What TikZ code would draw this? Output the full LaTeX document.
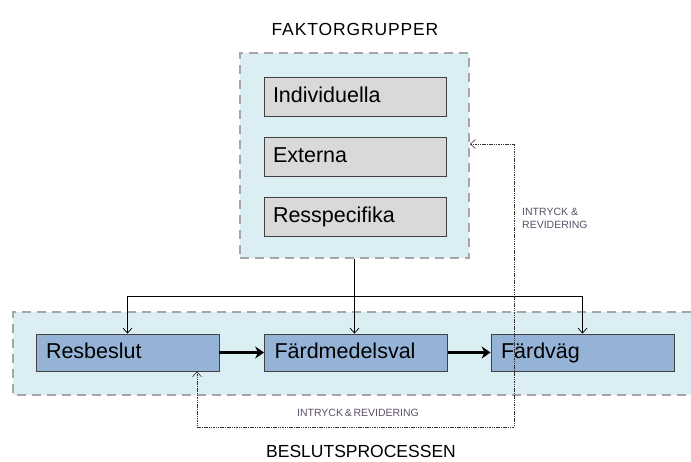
\documentclass[tikz,border=0pt]{standalone}
\usepackage{fontspec}
\setmainfont{Liberation Sans}
\usetikzlibrary{arrows.meta}
\definecolor{panelfill}{HTML}{DBEEF4}
\definecolor{paneldash}{HTML}{A6A6A6}
\definecolor{grayfill}{HTML}{D9D9D9}
\definecolor{bluefill}{HTML}{95B3D7}
\definecolor{boxline}{HTML}{404040}
\definecolor{lblcol}{HTML}{5A4E66}
\tikzset{
  panel/.style={draw=paneldash, fill=panelfill, line width=1.8pt, dash pattern=on 9pt off 6pt, inner sep=0pt},
  graybox/.style={draw=boxline, fill=grayfill, line width=0.8pt, minimum width=182pt, minimum height=39pt, text width=164pt, inner xsep=9pt, text height=15.5pt, text depth=4pt, align=left, font=\fontsize{21.5}{24}\selectfont},
  bluebox/.style={draw=boxline, fill=bluefill, line width=0.8pt, minimum width=183pt, minimum height=37pt, text width=163pt, inner xsep=10pt, text height=15.5pt, text depth=4pt, align=left, font=\fontsize{21.5}{24}\selectfont},
  conn/.style={draw=black, line width=0.7pt, -{Straight Barb[length=5pt,width=9pt]}},
  heavy/.style={draw=black, line width=3pt, -{Stealth[length=9pt,width=12pt,inset=3pt]}},
  fb/.style={draw=black!80, line width=0.6pt, dash pattern=on 1.5pt off 0.8pt},
  fbtip/.style={{Straight Barb[length=5pt,width=9pt]}-{Straight Barb[length=5pt,width=9pt]}},
  smalllbl/.style={text=lblcol, font=\fontsize{10.5}{12.5}\selectfont, inner sep=0pt},
  title/.style={font=\fontsize{17.5}{20}\selectfont, inner sep=0pt}
}
\begin{document}
\begin{tikzpicture}[x=1pt,y=-1pt]
\useasboundingbox (0,0) rectangle (691,462);
% bottom panel (cut at right edge)
\fill[panelfill] (13,312) rectangle (691,395);
\draw[paneldash, line width=1.8pt, dash pattern=on 9pt off 6pt] (691,312) -- (13,312) -- (13,395) -- (691,395);
% top panel
\node[panel, minimum width=229pt, minimum height=205pt] (fak) at (354.5,155.5) {};
\node[graybox] (ind) at (355,96.5) {Individuella};
\node[graybox] (ext) at (355,156.5) {Externa};
\node[graybox] (rsp) at (355,217) {Resspecifika};
% process boxes
\node[bluebox] (res) at (127.5,352.5) {Resbeslut};
\node[bluebox] (med) at (356,352.5) {Färdmedelsval};
\node[bluebox] (vag) at (582.5,352.5) {Färdväg};
% titles
\node[title] (t1) at (355,29) {\addfontfeature{LetterSpace=5}FAKTORGRUPPER};
\node[title] (t2) at (361,451.5) {BESLUTSPROCESSEN};
% connectors from factor groups
\coordinate (bus) at (fak.south |- 0,296);
\draw[conn] (fak.south) -- (fak.south |- med.north);
\draw[conn] (bus) -| (res.north);
\draw[conn] (bus) -| (vag.north);
% heavy arrows
\draw[heavy] (res.east) -- (med.west);
\draw[heavy] (med.east) -- (vag.west);
% feedback loop
\coordinate (fb1) at (514,144);
\coordinate (fb2) at (514,427);
\coordinate (fb3) at (197,427);
\draw[fb, fbtip] (fak.east |- fb1) -- (fb1) -- (fb2) -- (fb3) -- (fb3 |- res.south);
% labels
\node[smalllbl] (lb1) at (358,413) {INTRYCK\,\&\,REVIDERING};
\node[smalllbl, anchor=north west, align=left] (lb2) at (522,208) {INTRYCK \&\\REVIDERING};
\end{tikzpicture}
\end{document}
